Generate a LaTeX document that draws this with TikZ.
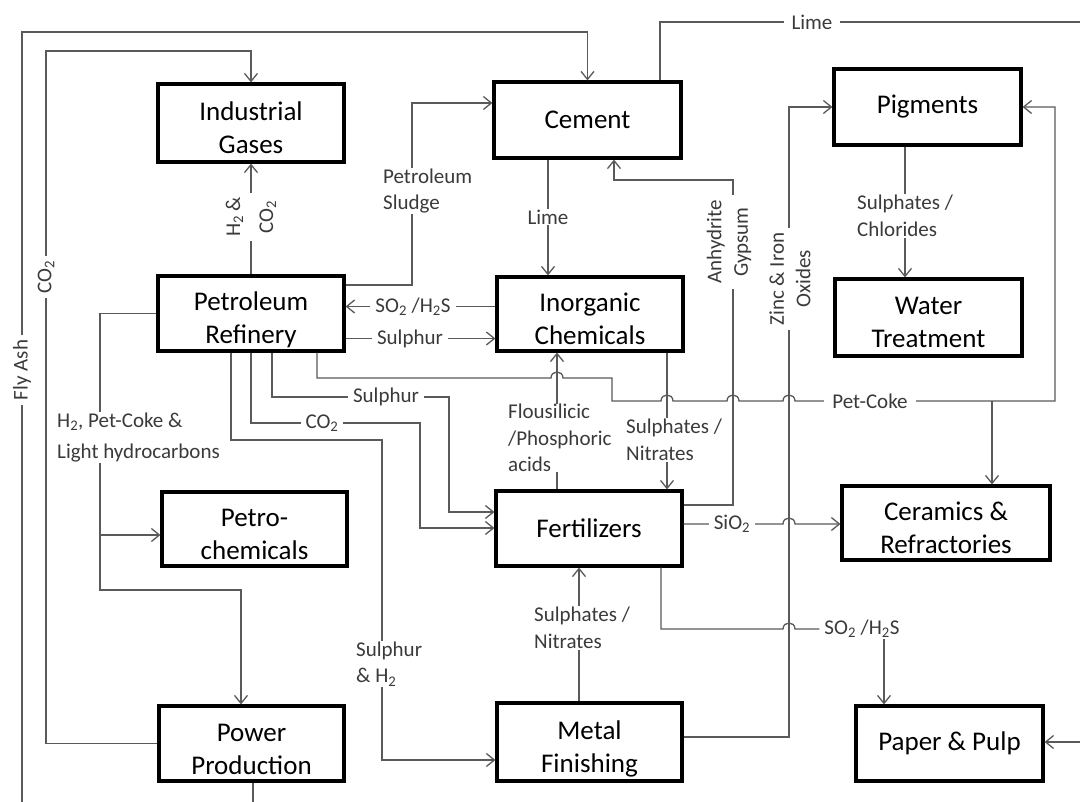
\documentclass[tikz,border=0pt]{standalone}
\usepackage{fontspec}
\setmainfont{Carlito}
\usetikzlibrary{arrows.meta}
\newcommand\boxfnt{\fontsize{27}{33}\selectfont}
\newcommand\labfnt{\fontsize{21}{26.5}\selectfont}
\definecolor{lncol}{HTML}{5A5A5A}
\definecolor{labc}{HTML}{3A3A3A}
\begin{document}
\begin{tikzpicture}[x=1pt,y=-1pt,
 box/.style={draw=black,line width=3.2pt,align=center,inner sep=0pt,font=\boxfnt,text=black},
 two/.style={text height=61pt,text depth=0pt},
 lab/.style={fill=white,inner xsep=5pt,inner ysep=1pt,text=labc,font=\labfnt,align=left},
 conn/.style={draw=lncol,line width=1.3pt},
 arr/.style={conn,-{Straight Barb[length=8pt,width=13pt]}}]
\useasboundingbox (0,0) rectangle (1080,802);
\fill[white] (0,0) rectangle (1080,802);
% boxes
\node[box,two,minimum width=186pt,minimum height=78pt] (IG) at (251,123) {Industrial\\Gases};
\node[box,minimum width=187pt,minimum height=76pt] (Cement) at (587.5,120) {Cement};
\node[box,minimum width=187pt,minimum height=76pt] (Pig) at (927.5,107) {Pigments};
\node[box,two,minimum width=186pt,minimum height=75pt] (Ref) at (251,313.5) {Petroleum\\Refinery};
\node[box,two,minimum width=186pt,minimum height=74pt] (Inorg) at (590,314) {Inorganic\\Chemicals};
\node[box,two,minimum width=187pt,minimum height=77pt] (Water) at (928.5,317.5) {Water\\Treatment};
\node[box,two,minimum width=185pt,minimum height=74pt] (Petro) at (254.5,529) {Petro-\\chemicals};
\node[box,minimum width=186pt,minimum height=75pt] (Fert) at (589,528.5) {Fertilizers};
\node[box,two,minimum width=208pt,minimum height=74pt] (Ceram) at (946,523) {Ceramics \&\\Refractories};
\node[box,two,minimum width=185pt,minimum height=75pt] (Power) at (251.5,743.5) {Power\\Production};
\node[box,two,minimum width=185pt,minimum height=78pt] (Metal) at (589.5,742) {Metal\\Finishing};
\node[box,minimum width=187pt,minimum height=75pt] (Paper) at (949.5,743.5) {Paper \& Pulp};
% label that connectors end on
\node[lab] (lSO2b) at (862,629) {SO\textsubscript{2} /H\textsubscript{2}S};
% connectors
\draw[arr] (22,802) -- (22,32) -| (Cement.north);
\draw[arr] (Power.west) -| (46,51) -| (IG.north);
\draw[arr] (Ref.north) -- (IG.south);
\draw[arr] (Ref.east |- 0,285) -- (412,285) |- (Cement.west |- 0,103);
\draw[conn] (Cement.north -| 660,0) |- (1080,22);
\draw[arr] (Cement.south -| 548,0) -- (Inorg.north -| 548,0);
\draw[arr] (Fert.east |- 0,505) -- (733,505) |- (614,180) -- (Cement.south -| 614,0);
\draw[arr] (Metal.east |- 0,737) -- (789,737) |- (Pig.west);
\draw[arr] (Pig.south -| 905,0) -- (Water.north -| 905,0);
\draw[arr] (Ref.south -| 317,0) -- (317,378) -- (551,378)
  .. controls (551,370) and (563,370) .. (563,378) -- (612,378) -- (612,401) -- (661,401)
  .. controls (661,393) and (673,393) .. (673,401) -- (727,401)
  .. controls (727,393) and (739,393) .. (739,401) -- (783,401)
  .. controls (783,393) and (795,393) .. (795,401) -- (1055,401) |- (Pig.east);
\draw[arr] (992,401) -- (Ceram.north -| 992,0);
\draw[arr] (Ref.west) -| (100,590) -| (Power.north -| 241,0);
\draw[arr] (100,535) -- (Petro.west |- 0,535);
\draw[arr] (Inorg.west |- 0,306.5) -- (Ref.east |- 0,306.5);
\draw[arr] (Ref.east |- 0,338.5) -- (Inorg.west |- 0,338.5);
\draw[arr] (Ref.south -| 272,0) |- (449,397) |- (Fert.west |- 0,512);
\draw[arr] (Ref.south -| 251,0) |- (420,423) |- (Fert.west |- 0,528);
\draw[arr] (Ref.south -| 231,0) |- (382,440) |- (Metal.west |- 0,760);
\draw[arr] (Fert.north -| 557,0) -- (Inorg.south -| 557,0);
\draw[arr] (Inorg.south -| 667,0) -- (Fert.north -| 667,0);
\draw[arr] (Fert.east |- 0,524) -- (783,524) .. controls (783,516) and (795,516) .. (795,524) -- (Ceram.west |- 0,524);
\draw[conn] (Fert.south -| 661,0) |- (783,629) .. controls (783,621) and (795,621) .. (795,629) -- (lSO2b.west);
\draw[arr] (lSO2b.south -| 884,0) -- (Paper.north -| 884,0);
\draw[arr] (Metal.north -| 579,0) -- (Fert.south -| 579,0);
\draw[conn] (Power.south -| 253,0) -- (253,802);
\draw[arr] (1080,742) -- (Paper.east |- 0,742);
% labels
\node[lab,inner xsep=8pt] (lLime1) at (812,22) {Lime};
\node[lab,anchor=west] (lSludge) at (378,191) {Petroleum\\Sludge};
\node[lab] (lLime2) at (548,217) {Lime};
\node[lab,anchor=west] (lChl) at (852,216) {Sulphates /\\Chlorides};
\node[lab,rotate=90,align=center,font=\fontsize{21}{33}\selectfont] (lH2CO2) at (251,217) {H\textsubscript{2}\,\&\\CO\textsubscript{2}};
\node[lab,rotate=90,align=center] (lAnh) at (729,242) {Anhydrite\\Gypsum};
\node[lab,rotate=90,align=center] (lZinc) at (790,279) {Zinc \& Iron\\Oxides};
\node[lab] (lSO2a) at (413,306.5) {SO\textsubscript{2} /H\textsubscript{2}S};
\node[lab] (lSul1) at (410,338.5) {Sulphur};
\node[lab,anchor=west,font=\fontsize{21}{31}\selectfont] (lH2) at (52,437.5) {H\textsubscript{2}, Pet-Coke \&\\Light hydrocarbons};
\node[lab] (lSul2) at (386,397) {Sulphur};
\node[lab] (lCO2) at (322,423) {CO\textsubscript{2}};
\node[lab,anchor=west,inner ysep=0pt] (lFlou) at (503,438) {Flousilicic\\/Phosphoric\\acids};
\node[lab,anchor=west] (lSN1) at (621,440) {Sulphates /\\Nitrates};
\node[lab] (lSiO2) at (732,524) {SiO\textsubscript{2}};
\node[lab,anchor=west] (lSN2) at (529,628) {Sulphates /\\Nitrates};
\node[lab,anchor=west] (lSH2) at (351,664) {Sulphur\\\& H\textsubscript{2}};
\node[lab,rotate=90] (lFly) at (22,370) {Fly Ash};
\node[lab,rotate=90] (lCO2v) at (46,277) {CO\textsubscript{2}};
\node[lab,inner xsep=8pt] (lPet) at (870,401) {Pet-Coke};
\end{tikzpicture}
\end{document}
